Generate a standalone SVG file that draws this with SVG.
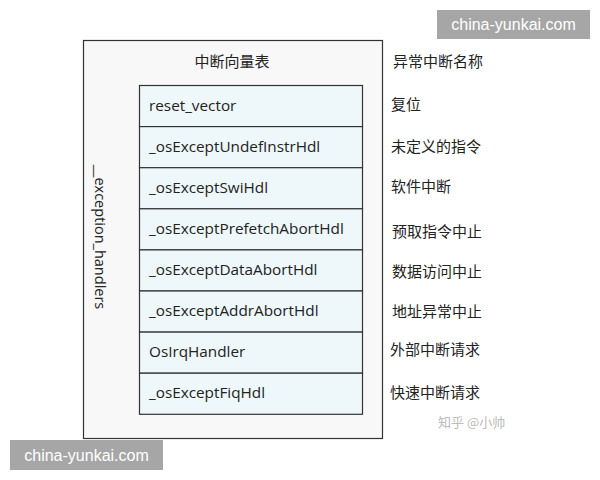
<svg xmlns="http://www.w3.org/2000/svg" width="600" height="480" viewBox="0 0 600 480">
<style>
.row rect{fill:#eef8fb;stroke:#333;stroke-width:1.2}
.rt{font-family:"Open Sans","Liberation Sans",sans-serif;font-size:15.3px;fill:#222}
.vt{font-family:"Open Sans","Liberation Sans",sans-serif;font-size:14.5px;fill:#222}
.cn{font-family:"Noto Sans CJK SC","Noto Sans",sans-serif;font-size:15px;fill:#222}
.wm{font-family:"Liberation Sans","Noto Sans",sans-serif;font-size:16px;fill:#fff}
</style>
<rect width="600" height="480" fill="#fff"/>
<g id="outer">
<rect x="83.5" y="40.5" width="299" height="398" fill="#f8f8f8" stroke="#333" stroke-width="1.2"/>
<text class="cn" x="232" y="67" text-anchor="middle">中断向量表</text>
<text class="vt" transform="translate(95,237) rotate(90)" text-anchor="middle">__exception_handlers</text>
</g>
<g id="rows" class="row">
<g id="r1"><rect x="139.5" y="85.5" width="223" height="41.1"/><text class="rt" x="149" y="111">reset_vector</text></g>
<g id="r2"><rect x="139.5" y="126.6" width="223" height="41.1"/><text class="rt" x="149" y="152">_osExceptUndefInstrHdl</text></g>
<g id="r3"><rect x="139.5" y="167.7" width="223" height="41.1"/><text class="rt" x="149" y="193">_osExceptSwiHdl</text></g>
<g id="r4"><rect x="139.5" y="208.8" width="223" height="41.1"/><text class="rt" x="149" y="234">_osExceptPrefetchAbortHdl</text></g>
<g id="r5"><rect x="139.5" y="249.9" width="223" height="41.1"/><text class="rt" x="149" y="275">_osExceptDataAbortHdl</text></g>
<g id="r6"><rect x="139.5" y="291" width="223" height="41.1"/><text class="rt" x="149" y="316">_osExceptAddrAbortHdl</text></g>
<g id="r7"><rect x="139.5" y="332.1" width="223" height="41.1"/><text class="rt" x="149" y="357">OsIrqHandler</text></g>
<g id="r8"><rect x="139.5" y="373.2" width="223" height="41.1"/><text class="rt" x="149" y="398">_osExceptFiqHdl</text></g>
</g>
<g id="labels">
<text class="cn" x="393" y="67">异常中断名称</text>
<text class="cn" x="391" y="110">复位</text>
<text class="cn" x="391" y="152">未定义的指令</text>
<text class="cn" x="391" y="192">软件中断</text>
<text class="cn" x="392" y="237">预取指令中止</text>
<text class="cn" x="392" y="277">数据访问中止</text>
<text class="cn" x="392" y="317">地址异常中止</text>
<text class="cn" x="390" y="355">外部中断请求</text>
<text class="cn" x="390" y="398">快速中断请求</text>
<text x="438" y="427" font-family="Noto Sans CJK SC,sans-serif" font-size="13" fill="#bbb">知乎 @小帅</text>
</g>
<g id="watermarks">
<rect x="437" y="10" width="153" height="29" fill="#a6a6a6"/>
<text class="wm" x="513.5" y="30" text-anchor="middle">china-yunkai.com</text>
<rect x="10" y="440" width="153" height="30" fill="#a6a6a6"/>
<text class="wm" x="86.5" y="461" text-anchor="middle">china-yunkai.com</text>
</g>
</svg>
